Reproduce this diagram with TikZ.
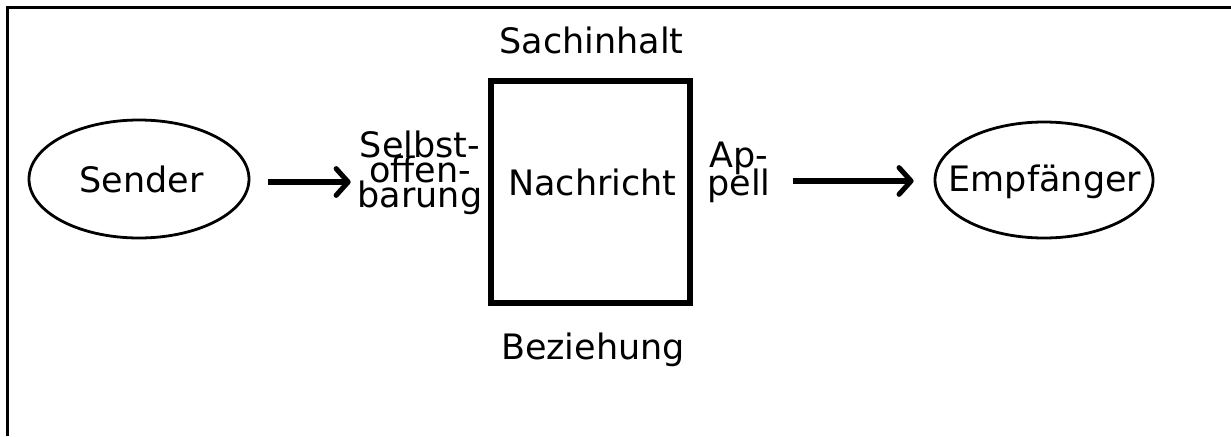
\documentclass[tikz,border=0pt]{standalone}
\usepackage{fontspec}
\setmainfont{DejaVu Sans}
\usetikzlibrary{shapes.geometric,arrows.meta}

\begin{document}
\begin{tikzpicture}[x=0.75pt,y=-0.75pt,
  txt/.style={inner sep=0pt,outer sep=0pt,anchor=base,font=\fontsize{26.25pt}{30pt}\selectfont},
  stacked/.style={inner sep=0pt,outer sep=0pt,anchor=north,align=center,
    font=\fontsize{26.25pt}{#1}\selectfont,
    execute at begin node={\lineskiplimit=-100pt\relax}},
  oval/.style={draw,ellipse,line width=2.1pt,inner sep=0pt},
  msgbox/.style={draw,rectangle,line width=4.3pt,inner sep=0pt,
    minimum width=149.25pt,minimum height=166.5pt},
  arr/.style={line width=3.8pt,-{Straight Barb[length=9pt,width=20pt,round]}},
  frame/.style={line width=2.25pt}]
\useasboundingbox (0,0) rectangle (1231,436);

% frame: top and left edge only
\coordinate (fl) at (7,436);
\coordinate (fc) at (7,7.5);
\coordinate (fr) at (1231,7.5);
\draw[frame] (fl) -- (fc) -- (fr);

% sender and receiver
\node[oval,minimum width=165pt,minimum height=88.5pt] (sender) at (139,179) {};
\node[txt] (sendertxt) at (141.5,192) {Sender};
\node[oval,minimum width=163.5pt,minimum height=87pt] (empf) at (1044,180) {};
\node[txt] (empftxt) at (1045,191) {Empfänger};

% the message with its four sides
\node[msgbox] (msg) at (590.5,192) {};
\node[txt] (nachricht) at (592.5,195) {Nachricht};
\node[txt] (sach) at (591.5,53) {Sachinhalt};
\node[txt] (bez) at (593,359) {Beziehung};
\node[stacked=18.4pt] (selbst) at (420,131.4) {Selbst-\\offen-\\barung};
\node[stacked=21pt] (appell) at (739,141.5) {Ap-\\pell};

% connectors
\draw[arr] ([shift={(18,3)}]sender.east) -- ([shift={(-7,3)}]sender.east -| selbst.west);
\draw[arr] ([shift={(22,1)}]appell.east |- empf.west) -- ([shift={(-20,1)}]empf.west);
\end{tikzpicture}
\end{document}
